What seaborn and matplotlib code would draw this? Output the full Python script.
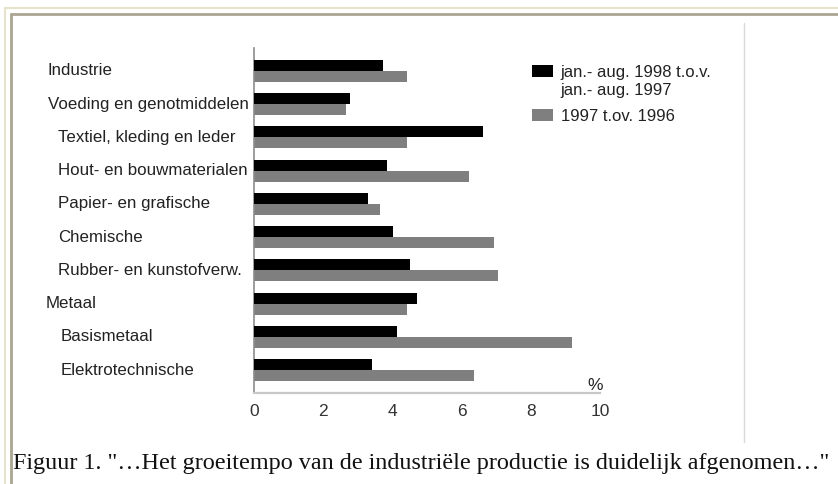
import matplotlib
matplotlib.use("Agg")
import matplotlib.pyplot as plt
import matplotlib.transforms as mtransforms
from matplotlib.lines import Line2D
import pandas as pd
import seaborn as sns

# --- data ---
sectors = [
    "Industrie", "Voeding en genotmiddelen", "Textiel, kleding en leder",
    "Hout- en bouwmaterialen", "Papier- en grafische", "Chemische",
    "Rubber- en kunstofverw.", "Metaal", "Basismetaal", "Elektrotechnische",
]
label_x = [47, 48, 58, 58, 58, 58, 58, 46, 61, 61]  # indent level in px
growth_1998 = [3.72, 2.78, 6.62, 3.85, 3.30, 4.01, 4.50, 4.72, 4.14, 3.42]
growth_1997 = [4.42, 2.67, 4.42, 6.21, 3.63, 6.94, 7.05, 4.42, 9.20, 6.36]
series = ["jan.- aug. 1998 t.o.v.\njan.- aug. 1997", "1997 t.ov. 1996"]
xticks = [0, 2, 4, 6, 8, 10]

df = pd.DataFrame({
    "sector": sectors * 2,
    "value": growth_1998 + growth_1997,
    "series": [series[0]] * len(sectors) + [series[1]] * len(sectors),
})

W, H = 838, 484
sns.set_style("white")
plt.rcParams["font.family"] = ["Liberation Sans", "DejaVu Sans"]

fig = plt.figure(figsize=(W / 100, H / 100), dpi=100)
ax = fig.add_axes([254 / W, 1 - 393 / H, 346 / W, 345 / H])

sns.barplot(data=df, x="value", y="sector", hue="series", orient="h",
            palette=["#000000", "#7f7f7f"], width=0.66, dodge=True,
            edgecolor="none", ax=ax)
# black bars above the grey ones
for p in ax.patches[:len(sectors)]:
    p.set_zorder(3)

ax.set_xlim(0, 10)
ax.set_ylim(9.69, -0.69)
ax.set_xticks(xticks)
ax.set_xticklabels([str(t) for t in xticks], fontsize=12.5, color="#333333")
ax.tick_params(axis="x", length=0, pad=8)
ax.set_yticks(range(len(sectors)))
ax.set_yticklabels([])
ax.tick_params(axis="y", length=0)
ax.set_xlabel("")
ax.set_ylabel("")
for s in ["top", "right"]:
    ax.spines[s].set_visible(False)
ax.spines["left"].set_color("#8c8c8c")
ax.spines["bottom"].set_color("#c8c8c8")
ax.spines["left"].set_linewidth(1.2)
ax.spines["bottom"].set_linewidth(1.6)

# category labels, left aligned at their indent
trans = mtransforms.blended_transform_factory(fig.transFigure, ax.transData)
for i, (name, lx) in enumerate(zip(sectors, label_x)):
    ax.text(lx / W, i, name, transform=trans, ha="left", va="center",
            fontsize=12.2, color="#222222", clip_on=False)

ax.text(10.08, 9.45, "%", ha="right", va="center", fontsize=12.5, color="#222222")

sns.move_legend(ax, loc="upper left", bbox_to_anchor=(524 / W, 1 - 57 / H),
                bbox_transform=fig.transFigure, title=None, frameon=False,
                fontsize=12, handlelength=1.25, handleheight=0.7,
                handletextpad=0.45, labelspacing=0.7, borderpad=0)
leg = ax.get_legend()
for t in leg.get_texts():
    t.set_color("#222222")
# handle next to the first line of a two-line label
for col in leg._legend_handle_box.get_children():
    for row in col.get_children():
        row.align = "top"

# document frame around the figure
fig.add_artist(Line2D([5 / W, 5 / W], [0, 1 - 8 / H], transform=fig.transFigure,
                      color="#e6e2cc", lw=1.5))
fig.add_artist(Line2D([5 / W, 1], [1 - 8 / H, 1 - 8 / H], transform=fig.transFigure,
                      color="#e6e2cc", lw=1.5))
fig.add_artist(Line2D([11 / W, 11 / W], [0, 1 - 14 / H], transform=fig.transFigure,
                      color="#aaa691", lw=2))
fig.add_artist(Line2D([11 / W, 1], [1 - 14 / H, 1 - 14 / H], transform=fig.transFigure,
                      color="#aaa691", lw=2))
fig.add_artist(Line2D([744 / W, 744 / W], [1 - 442 / H, 1 - 23 / H],
                      transform=fig.transFigure, color="#d9d9d9", lw=1))

fig.text(13 / W, 1 - 463 / H,
         "Figuur 1. \"\u2026Het groeitempo van de industri\u00eble productie is duidelijk afgenomen\u2026\"",
         ha="left", va="center", fontsize=17.4, family=["Liberation Serif", "DejaVu Serif"],
         color="#111111")

plt.savefig("out.png", dpi=100)
plt.close()
